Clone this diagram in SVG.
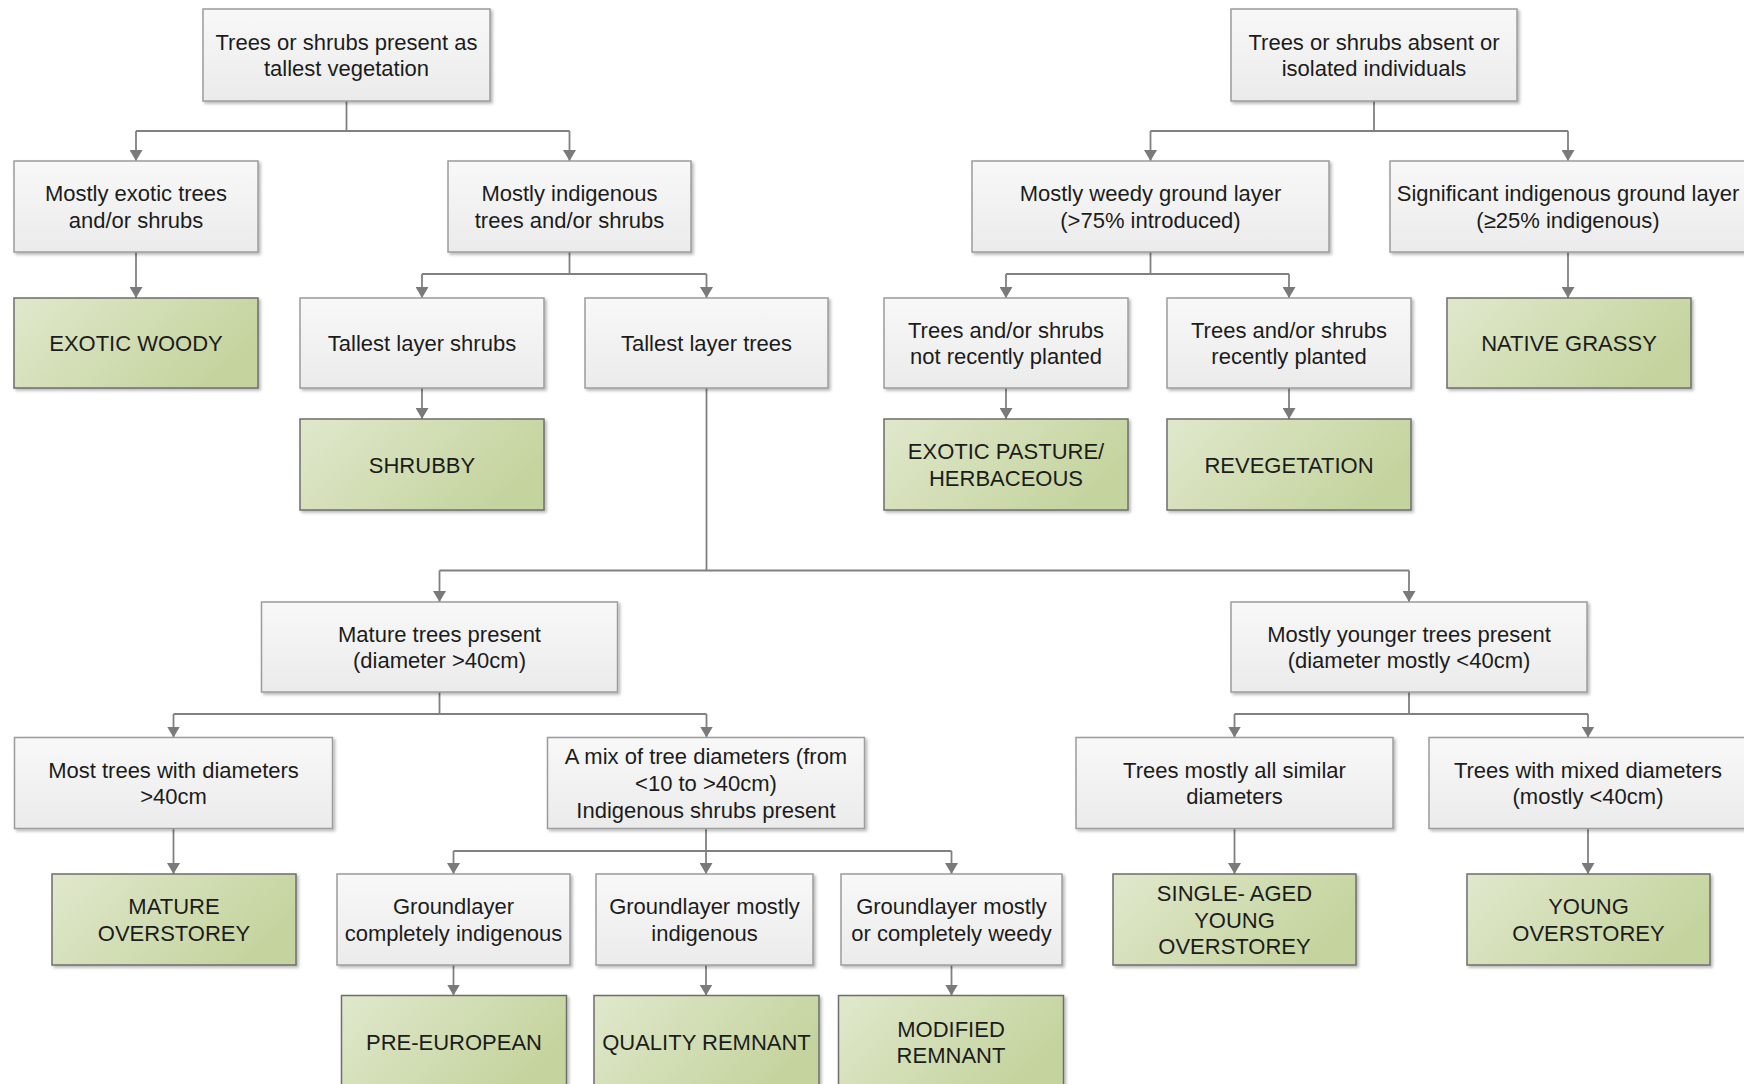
<svg xmlns="http://www.w3.org/2000/svg" width="1744" height="1084" viewBox="0 0 1744 1084">
<defs>
<linearGradient id="gw" x1="0" y1="0" x2="0" y2="1">
<stop offset="0" stop-color="#f8f8f8"/>
<stop offset="1" stop-color="#ebebeb"/>
</linearGradient>
<linearGradient id="gg" x1="0" y1="0" x2="1" y2="0.4">
<stop offset="0" stop-color="#e0e8cc"/>
<stop offset="1" stop-color="#c5d49f"/>
</linearGradient>
<filter id="sh" x="-5%" y="-5%" width="115%" height="120%">
<feDropShadow dx="2" dy="2" stdDeviation="1.5" flood-color="#000" flood-opacity="0.28"/>
</filter>
<marker id="arr" viewBox="0 0 11 13" refX="11" refY="6.5" markerWidth="11" markerHeight="13" orient="auto" markerUnits="userSpaceOnUse">
<path d="M0,0 L11,6.5 L0,13 z" fill="#7a7a7a"/>
</marker>
<style>
.w{fill:url(#gw);stroke:#9c9c9c;stroke-width:1.5;filter:url(#sh)}
.g{fill:url(#gg);stroke:#6e6e6e;stroke-width:1.5;filter:url(#sh)}
text{font-family:"Liberation Sans",Arial,sans-serif;font-size:22px;fill:#1c1c1c;text-anchor:middle}
.c path{fill:none;stroke:#808080;stroke-width:1.8}
.c .a{marker-end:url(#arr)}
</style>
</defs>
<rect width="1744" height="1084" fill="#ffffff"/>

<g id="connectors" class="c">
<path d="M346.5,101 V131 M136,131 H569.5"/>
<path class="a" d="M136,131 V161"/>
<path class="a" d="M569.5,131 V161"/>
<path d="M1374,101 V131 M1150.5,131 H1568"/>
<path class="a" d="M1150.5,131 V161"/>
<path class="a" d="M1568,131 V161"/>
<path class="a" d="M136,252 V298"/>
<path class="a" d="M1568,252 V298"/>
<path d="M569.5,252 V274 M422,274 H706.5"/>
<path class="a" d="M422,274 V298"/>
<path class="a" d="M706.5,274 V298"/>
<path d="M1150.5,252 V274 M1006,274 H1289"/>
<path class="a" d="M1006,274 V298"/>
<path class="a" d="M1289,274 V298"/>
<path class="a" d="M422,388 V419"/>
<path class="a" d="M1006,388 V419"/>
<path class="a" d="M1289,388 V419"/>
<path d="M706.5,388 V570.5 M439.5,570.5 H1409"/>
<path class="a" d="M439.5,570.5 V602"/>
<path class="a" d="M1409,570.5 V602"/>
<path d="M439.5,692 V714 M173.5,714 H706.5"/>
<path class="a" d="M173.5,714 V737.5"/>
<path class="a" d="M706.5,714 V737.5"/>
<path d="M1409,692 V714 M1234.5,714 H1588"/>
<path class="a" d="M1234.5,714 V737.5"/>
<path class="a" d="M1588,714 V737.5"/>
<path class="a" d="M173.5,828.5 V874"/>
<path class="a" d="M1234.5,828.5 V874"/>
<path class="a" d="M1588,828.5 V874"/>
<path d="M706,828.5 V851 M453.5,851 H951.5"/>
<path class="a" d="M453.5,851 V874"/>
<path class="a" d="M706,851 V874"/>
<path class="a" d="M951.5,851 V874"/>
<path class="a" d="M453.5,965 V995.5"/>
<path class="a" d="M706,965 V995.5"/>
<path class="a" d="M951.5,965 V995.5"/>
</g>

<g id="n-trees-present">
<rect class="w" x="203" y="9" width="287" height="92"/>
<text x="346.5" y="49.7">Trees or shrubs present as</text>
<text x="346.5" y="76.4">tallest vegetation</text>
</g>
<g id="n-trees-absent">
<rect class="w" x="1231" y="9" width="286" height="92"/>
<text x="1374" y="49.7">Trees or shrubs absent or</text>
<text x="1374" y="76.4">isolated individuals</text>
</g>

<g id="n-mostly-exotic">
<rect class="w" x="14" y="161" width="244" height="91"/>
<text x="136" y="201.2">Mostly exotic trees</text>
<text x="136" y="227.9">and/or shrubs</text>
</g>
<g id="n-mostly-indigenous">
<rect class="w" x="448" y="161" width="243" height="91"/>
<text x="569.5" y="201.2">Mostly indigenous</text>
<text x="569.5" y="227.9">trees and/or shrubs</text>
</g>
<g id="n-weedy-ground">
<rect class="w" x="972" y="161" width="357" height="91"/>
<text x="1150.5" y="201.2">Mostly weedy ground layer</text>
<text x="1150.5" y="227.9">(&gt;75% introduced)</text>
</g>
<g id="n-indigenous-ground">
<rect class="w" x="1390" y="161" width="356" height="91"/>
<text x="1568" y="201.2">Significant indigenous ground layer</text>
<text x="1568" y="227.9">(≥25% indigenous)</text>
</g>

<g id="n-exotic-woody">
<rect class="g" x="14" y="298" width="244" height="90"/>
<text x="136" y="351">EXOTIC WOODY</text>
</g>
<g id="n-tallest-shrubs">
<rect class="w" x="300" y="298" width="244" height="90"/>
<text x="422" y="351">Tallest layer shrubs</text>
</g>
<g id="n-tallest-trees">
<rect class="w" x="585" y="298" width="243" height="90"/>
<text x="706.5" y="351">Tallest layer trees</text>
</g>
<g id="n-not-recently-planted">
<rect class="w" x="884" y="298" width="244" height="90"/>
<text x="1006" y="337.7">Trees and/or shrubs</text>
<text x="1006" y="364.4">not recently planted</text>
</g>
<g id="n-recently-planted">
<rect class="w" x="1167" y="298" width="244" height="90"/>
<text x="1289" y="337.7">Trees and/or shrubs</text>
<text x="1289" y="364.4">recently planted</text>
</g>
<g id="n-native-grassy">
<rect class="g" x="1447" y="298" width="244" height="90"/>
<text x="1569" y="351">NATIVE GRASSY</text>
</g>

<g id="n-shrubby">
<rect class="g" x="300" y="419" width="244" height="91"/>
<text x="422" y="472.5">SHRUBBY</text>
</g>
<g id="n-exotic-pasture">
<rect class="g" x="884" y="419" width="244" height="91"/>
<text x="1006" y="459.2">EXOTIC PASTURE/</text>
<text x="1006" y="485.9">HERBACEOUS</text>
</g>
<g id="n-revegetation">
<rect class="g" x="1167" y="419" width="244" height="91"/>
<text x="1289" y="472.5">REVEGETATION</text>
</g>

<g id="n-mature-trees">
<rect class="w" x="261.5" y="602" width="356" height="90"/>
<text x="439.5" y="641.7">Mature trees present</text>
<text x="439.5" y="668.4">(diameter &gt;40cm)</text>
</g>
<g id="n-younger-trees">
<rect class="w" x="1231" y="602" width="356" height="90"/>
<text x="1409" y="641.7">Mostly younger trees present</text>
<text x="1409" y="668.4">(diameter mostly &lt;40cm)</text>
</g>

<g id="n-most-over-40">
<rect class="w" x="14.5" y="737.5" width="318" height="91"/>
<text x="173.5" y="777.7">Most trees with diameters</text>
<text x="173.5" y="804.4">&gt;40cm</text>
</g>
<g id="n-mix-diameters">
<rect class="w" x="547.5" y="737.5" width="317" height="91"/>
<text x="706" y="764.3">A mix of tree diameters (from</text>
<text x="706" y="791">&lt;10 to &gt;40cm)</text>
<text x="706" y="817.7">Indigenous shrubs present</text>
</g>
<g id="n-similar-diameters">
<rect class="w" x="1076" y="737.5" width="317" height="91"/>
<text x="1234.5" y="777.7">Trees mostly all similar</text>
<text x="1234.5" y="804.4">diameters</text>
</g>
<g id="n-mixed-diameters">
<rect class="w" x="1429" y="737.5" width="318" height="91"/>
<text x="1588" y="777.7">Trees with mixed diameters</text>
<text x="1588" y="804.4">(mostly &lt;40cm)</text>
</g>

<g id="n-mature-overstorey">
<rect class="g" x="52" y="874" width="244" height="91"/>
<text x="174" y="914.2">MATURE</text>
<text x="174" y="940.9">OVERSTOREY</text>
</g>
<g id="n-ground-complete">
<rect class="w" x="337" y="874" width="233" height="91"/>
<text x="453.5" y="914.2">Groundlayer</text>
<text x="453.5" y="940.9">completely indigenous</text>
</g>
<g id="n-ground-mostly">
<rect class="w" x="596" y="874" width="217" height="91"/>
<text x="704.5" y="914.2">Groundlayer mostly</text>
<text x="704.5" y="940.9">indigenous</text>
</g>
<g id="n-ground-weedy">
<rect class="w" x="841" y="874" width="221" height="91"/>
<text x="951.5" y="914.2">Groundlayer mostly</text>
<text x="951.5" y="940.9">or completely weedy</text>
</g>
<g id="n-single-aged">
<rect class="g" x="1113" y="874" width="243" height="91"/>
<text x="1234.5" y="900.8">SINGLE- AGED</text>
<text x="1234.5" y="927.5">YOUNG</text>
<text x="1234.5" y="954.2">OVERSTOREY</text>
</g>
<g id="n-young-overstorey">
<rect class="g" x="1467" y="874" width="243" height="91"/>
<text x="1588.5" y="914.2">YOUNG</text>
<text x="1588.5" y="940.9">OVERSTOREY</text>
</g>

<g id="n-pre-european">
<rect class="g" x="341.5" y="995.5" width="225" height="91"/>
<text x="454" y="1049.5">PRE-EUROPEAN</text>
</g>
<g id="n-quality-remnant">
<rect class="g" x="594" y="995.5" width="225" height="91"/>
<text x="706.5" y="1049.5">QUALITY REMNANT</text>
</g>
<g id="n-modified-remnant">
<rect class="g" x="838.5" y="995.5" width="225" height="91"/>
<text x="951" y="1036.5">MODIFIED</text>
<text x="951" y="1063.2">REMNANT</text>
</g>
</svg>
